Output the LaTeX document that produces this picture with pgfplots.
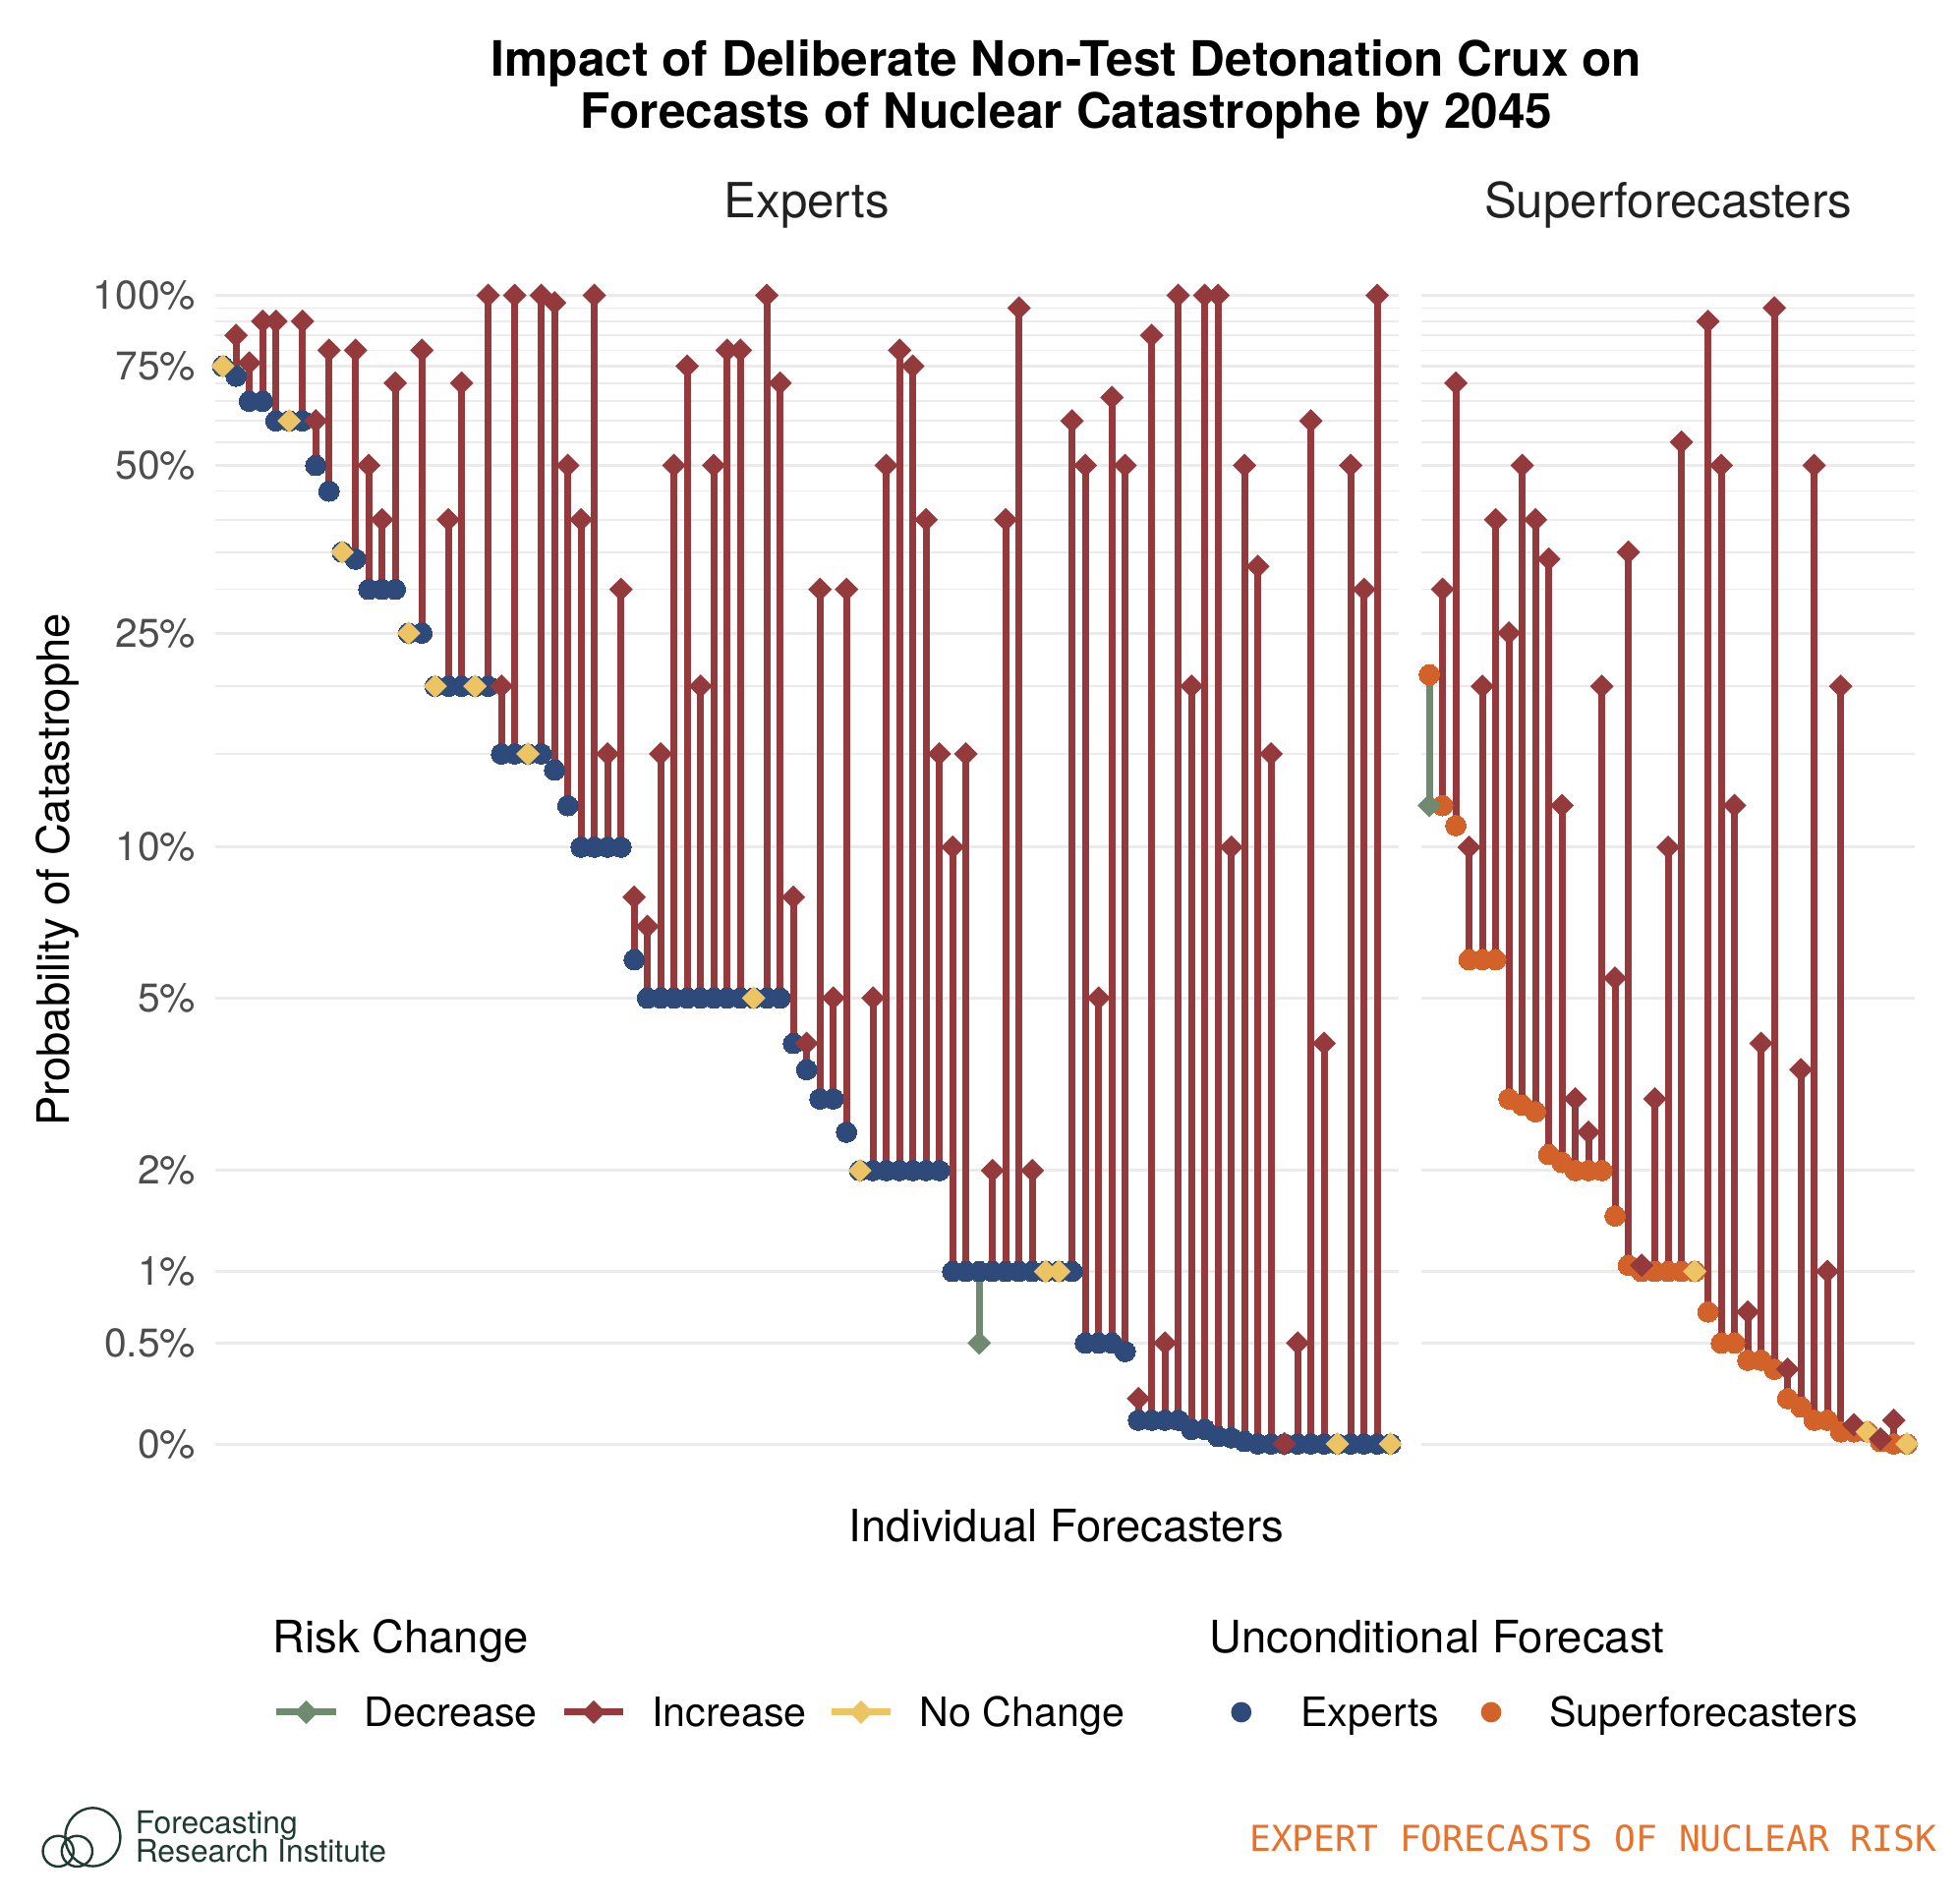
\documentclass[border=0pt]{standalone}
\usepackage{fontspec}
\setmainfont{TeX Gyre Heros}
\newfontfamily\footmono{DejaVu Sans Mono}
\usepackage{pgfplots}
\usepackage{pgfplotstable}
\pgfplotsset{compat=1.18}

\definecolor{incred}{HTML}{943A3C}
\definecolor{decgreen}{HTML}{6F8A6E}
\definecolor{ncyellow}{HTML}{ECC463}
\definecolor{expblue}{HTML}{2D4A7B}
\definecolor{suporange}{HTML}{D2622A}
\definecolor{gridgray}{HTML}{EBEBEB}
\definecolor{ticktext}{HTML}{4D4D4D}
\definecolor{footorange}{HTML}{E8712B}
\definecolor{logogreen}{HTML}{1F3A32}

% filled square standing on its corner (ggplot shape 18)
\pgfdeclareplotmark{rhomb}{%
  \pgfpathmoveto{\pgfqpoint{0pt}{\pgfplotmarksize}}%
  \pgfpathlineto{\pgfqpoint{\pgfplotmarksize}{0pt}}%
  \pgfpathlineto{\pgfqpoint{0pt}{-\pgfplotmarksize}}%
  \pgfpathlineto{\pgfqpoint{-\pgfplotmarksize}{0pt}}%
  \pgfpathclose
  \pgfusepathqfill}

% u = unconditional forecast (%), c = forecast given the crux (%), t = risk change
\pgfplotstableread{
u c t
75 75 nc
72 85 inc
65 76 inc
65 90 inc
60 90 inc
60 60 nc
60 90 inc
50 60 inc
45 80 inc
35 35 nc
34 80 inc
30 50 inc
30 40 inc
30 70 inc
25 25 nc
25 80 inc
20 20 nc
20 40 inc
20 70 inc
20 20 nc
20 100 inc
15 20 inc
15 100 inc
15 15 nc
15 100 inc
14 97 inc
12 50 inc
10 40 inc
10 100 inc
10 15 inc
10 30 inc
6 8 inc
5 7 inc
5 15 inc
5 50 inc
5 75 inc
5 20 inc
5 50 inc
5 80 inc
5 80 inc
5 5 nc
5 100 inc
5 70 inc
4 8 inc
3.5 4 inc
3 30 inc
3 5 inc
2.5 30 inc
2 2 nc
2 5 inc
2 50 inc
2 80 inc
2 75 inc
2 40 inc
2 15 inc
1 10 inc
1 15 inc
1 0.5 dec
1 2 inc
1 40 inc
1 95 inc
1 2 inc
1 1 nc
1 1 nc
1 60 inc
0.5 50 inc
0.5 5 inc
0.5 66 inc
0.45 50 inc
0.1 0.2 inc
0.1 85 inc
0.1 0.5 inc
0.1 100 inc
0.06 20 inc
0.06 100 inc
0.03 100 inc
0.025 10 inc
0.01 50 inc
0 33 inc
0 15 inc
0 0.001 inc
0 0.5 inc
0 60 inc
0 4 inc
0 0 nc
0 50 inc
0 30 inc
0 100 inc
0 0 nc
}\experts

\pgfplotstableread{
u c t
21 12 dec
12 30 inc
11 70 inc
6 10 inc
6 20 inc
6 40 inc
3 25 inc
2.9 50 inc
2.8 40 inc
2.2 34 inc
2.1 12 inc
2 3 inc
2 2.5 inc
2 20 inc
1.5 5.5 inc
1.05 35 inc
1 1.05 inc
1 3 inc
1 10 inc
1 55 inc
1 1 nc
0.7 90 inc
0.5 50 inc
0.5 12 inc
0.4 0.7 inc
0.4 4 inc
0.35 95 inc
0.2 0.35 inc
0.16 3.5 inc
0.1 50 inc
0.1 1 inc
0.05 20 inc
0.05 0.08 inc
0.05 0.05 nc
0.01 0.02 inc
0 0.1 inc
0 0 nc
}\supers

\pgfplotsset{
  seginc/.style={incred, line width=1.75pt, no marks},
  segdec/.style={decgreen, line width=1.75pt, no marks},
  segnc/.style={ncyellow, line width=1.75pt, no marks},
  crux/.style={
    scale only axis,
    anchor=south west,
    height=321.35pt,
    clip=false,
    y coord trafo/.code={\pgfmathparse{ln(1+##1)}},
    ymin=-0.2063, ymax=126.2,
    axis line style={draw=none},
    major tick length=0pt, minor tick length=0pt,
    xtick=\empty,
    ytick={0,0.5,1,2,5,10,25,50,75,100},
    minor ytick={15,20,30,35,40,45,55,60,65,70,80,85,90,95},
    ymajorgrids, yminorgrids,
    major grid style={gridgray, line width=0.75pt},
    minor grid style={gridgray, line width=0.4pt},
    yticklabel style={anchor=east, inner sep=0pt, xshift=-4.7pt,
      font=\fontsize{10.2}{12}\selectfont, text=ticktext},
  },
  dotmark/.style={only marks, mark=*, mark size=2.6pt,
    mark options={line width=0pt, draw=#1, fill=#1}},
  rhombmarks/.style={scatter, only marks, mark=rhomb, mark size=3pt,
    point meta=explicit symbolic,
    scatter/classes={
      inc={mark=rhomb, fill=incred},
      dec={mark=rhomb, fill=decgreen},
      nc={mark=rhomb, fill=ncyellow}}},
}

% vertical segment from unconditional to conditional forecast, one per row
\newcommand\drawsegments[1]{%
  \pgfplotstablegetrowsof{#1}%
  \pgfmathtruncatemacro\lastrow{\pgfplotsretval-1}%
  \pgfplotsforeachungrouped \k in {0,...,\lastrow}{%
    \pgfplotstablegetelem{\k}{u}\of#1\let\segu\pgfplotsretval
    \pgfplotstablegetelem{\k}{c}\of#1\let\segc\pgfplotsretval
    \pgfplotstablegetelem{\k}{t}\of#1\let\segt\pgfplotsretval
    \edef\segcmd{\noexpand\addplot[seg\segt] coordinates {(\k,\segu) (\k,\segc)};}%
    \segcmd
  }%
}

\begin{document}
\begin{tikzpicture}
\path[fill=white, use as bounding box] (0pt,0pt) rectangle (498.5pt,483.25pt);

% ---------- Experts panel ----------
\begin{axis}[crux, at={(54.65pt,101.35pt)}, width=301.05pt,
  xmin=-0.6, xmax=88.6,
  yticklabels={0\%,0.5\%,1\%,2\%,5\%,10\%,25\%,50\%,75\%,100\%}]
\addplot[dotmark=expblue] table[x expr=\coordindex, y=u] {\experts};
\drawsegments{\experts}
\addplot[rhombmarks] table[x expr=\coordindex, y=c, meta=t] {\experts};
\end{axis}

% ---------- Superforecasters panel ----------
\begin{axis}[crux, at={(361.5pt,101.35pt)}, width=125.55pt,
  xmin=-0.6, xmax=36.6, yticklabels={}]
\addplot[dotmark=suporange] table[x expr=\coordindex, y=u] {\supers};
\drawsegments{\supers}
\addplot[rhombmarks] table[x expr=\coordindex, y=c, meta=t] {\supers};
\end{axis}

% ---------- titles ----------
\begin{scope}[every node/.style={inner sep=0pt}]
\node[anchor=base, font=\fontsize{12.4}{14}\selectfont\bfseries] at (271.25pt,463.9pt)
  {Impact of Deliberate Non-Test Detonation Crux on};
\node[anchor=base, font=\fontsize{12.4}{14}\selectfont\bfseries] at (271.25pt,450.5pt)
  {Forecasts of Nuclear Catastrophe by 2045};
\node[anchor=base, font=\fontsize{12.3}{14}\selectfont, text=black!87] at (205.2pt,427.9pt) {Experts};
\node[anchor=base, font=\fontsize{12.3}{14}\selectfont, text=black!87] at (424.3pt,427.9pt) {Superforecasters};
\node[anchor=base, font=\fontsize{11.35}{13}\selectfont] at (271.25pt,91pt) {Individual Forecasters};
\node[rotate=90, font=\fontsize{11.35}{13}\selectfont] at (14.6pt,262pt) {Probability of Catastrophe};

% ---------- legends ----------
\node[anchor=base west, font=\fontsize{11.35}{13}\selectfont] at (69.25pt,62.75pt) {Risk Change};
\node[anchor=base west, font=\fontsize{11.35}{13}\selectfont] at (307.45pt,62.75pt) {Unconditional Forecast};
\foreach \cx/\col/\lab/\tx in {77.9/decgreen/Decrease/92.5, 151/incred/Increase/165.6, 219/ncyellow/No Change/233.7}{
  \draw[\col, line width=1.75pt] (\cx pt-7.6pt,47.75pt) -- (\cx pt+7.6pt,47.75pt);
  \fill[\col] (\cx pt,50.75pt) -- (\cx pt+3pt,47.75pt) -- (\cx pt,44.75pt) -- (\cx pt-3pt,47.75pt) -- cycle;
  \node[anchor=base west, font=\fontsize{10.3}{12}\selectfont] at (\tx pt,44pt) {\lab};
}
\fill[expblue] (315.7pt,47.75pt) circle (2.6pt);
\node[anchor=base west, font=\fontsize{10.3}{12}\selectfont] at (330.65pt,44pt) {Experts};
\fill[suporange] (379.25pt,47.75pt) circle (2.6pt);
\node[anchor=base west, font=\fontsize{10.3}{12}\selectfont] at (393.9pt,44pt) {Superforecasters};

% ---------- footer ----------
\begin{scope}[logogreen, line width=0.6pt]
\draw (23.6pt,16pt) ellipse (7pt and 7.4pt);
\draw (14.8pt,12.4pt) circle (3.9pt);
\draw (19.6pt,12.4pt) circle (3.9pt);
\end{scope}
\node[anchor=base west, font=\fontsize{7.95}{9}\selectfont, text=logogreen] at (34.25pt,16.85pt) {Forecasting};
\node[anchor=base west, font=\fontsize{7.95}{9}\selectfont, text=logogreen] at (34.25pt,9.5pt) {Research Institute};
\node[anchor=base east, font=\footmono\fontsize{9.07}{11}\selectfont, text=footorange] at (492.75pt,12.4pt)
  {EXPERT FORECASTS OF NUCLEAR RISK};
\end{scope}
\end{tikzpicture}
\end{document}
